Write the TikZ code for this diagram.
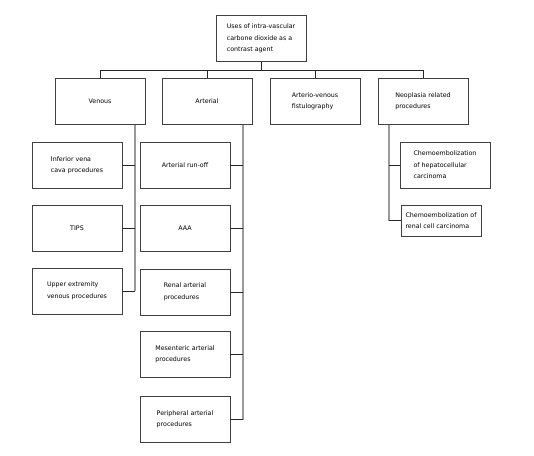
\documentclass[tikz,border=0pt]{standalone}
\usepackage{fontspec}
\setmainfont{DejaVu Sans}
\usepackage{tikz}
\usetikzlibrary{positioning}
\tikzset{>=latex}
\tikzset{
  box/.style={draw=black!75, line width=0.7pt, minimum width=90pt, minimum height=46pt,
    inner sep=2pt, align=left, font=\fontsize{6.3}{11.5}\selectfont},
  smallbox/.style={box, minimum width=80pt, minimum height=31pt},
  spine/.style={draw=black!40, line width=1.3pt},
  link/.style={draw=black!85, line width=0.7pt}
}

\begin{document}
\begin{tikzpicture}[x=1pt, y=-1pt]
 \useasboundingbox (0,0) rectangle (534,455);

 % Root
 \node[box] (root) at (261,38.5) {Uses of intra-vascular\\carbone dioxide as a\\contrast agent};

 % First level
 \node[box] (venous) at (100,101.5) {Venous};
 \node[box] (arterial) at (207,101.5) {Arterial};
 \node[box] (avf) at (315,101.5) {Arterio-venous\\fistulography};
 \node[box] (neo) at (423,101.5) {Neoplasia related\\procedures};

 % Venous
 \node[box] (ivc) at (77,165.5) {Inferior vena\\cava procedures};
 \node[box] (tips) at (77,228) {TIPS};
 \node[box] (upper) at (77,291) {Upper extremity\\venous procedures};

 % Arterial
 \node[box] (runoff) at (185,165.5) {Arterial run-off};
 \node[box] (aaa) at (185,228) {AAA};
 \node[box] (renal) at (185,292) {Renal arterial\\procedures};
 \node[box] (mesent) at (185,354.5) {Mesenteric arterial\\procedures};
 \node[box] (periph) at (185,419.5) {Peripheral arterial\\procedures};

 % Neoplasia
 \node[box] (hcc) at (445,165) {Chemoembolization\\of hepatocellular\\carcinoma};
 \node[smallbox] (rcc) at (441,220.5) {Chemoembolization of\\renal cell carcinoma};

 % Bus
 \coordinate (bus) at (0,70);
 \draw[link] (root.south) -- (root.south |- bus);
 \draw[link] (venous.north |- bus) -- (neo.north |- bus);
 \foreach \n in {venous, arterial, avf, neo}{
    \draw[link] (\n.north |- bus) -- (\n.north);
 }

 % Spines
 \coordinate (vs) at (135,0);
 \coordinate (as) at (243,0);
 \coordinate (ns) at (389,0);
 \draw[spine] (venous.south -| vs) -- (upper.east -| vs);
 \draw[spine] (arterial.south -| as) -- (periph.east -| as);
 \draw[spine] (neo.south -| ns) -- (rcc.west -| ns);

 \foreach \n in {ivc, tips, upper}{
    \draw[link] (\n.east) -- (\n.east -| vs);
 }
 \foreach \n in {runoff, aaa, renal, mesent, periph}{
    \draw[link] (\n.east) -- (\n.east -| as);
 }
 \foreach \n in {hcc, rcc}{
    \draw[link] (\n.west -| ns) -- (\n.west);
 }

\end{tikzpicture}
\end{document}
